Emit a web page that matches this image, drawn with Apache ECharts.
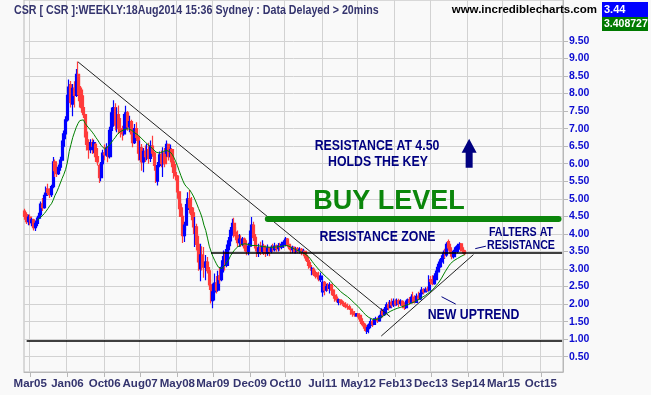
<!DOCTYPE html>
<html><head><meta charset="utf-8">
<script src="https://cdn.jsdelivr.net/npm/echarts@6/dist/echarts.min.js"></script>
<style>html,body{margin:0;padding:0;background:#f9f9f9}#c{width:651px;height:395px}</style>
</head><body><div id="c"></div>
<script>
// ---- axis labels ----
const tickLabels = ['Mar05','Jan06','Oct06','Aug07','May08','Mar09','Dec09','Oct10','Jul11','May12','Feb13','Dec13','Sep14','Mar15','Oct15'];
const tickIndex  = [3,24,45,65,86,106,127,147,168,188,209,229,250,270,291];
const yTicks = [0.5,1,1.5,2,2.5,3,3.5,4,4.5,5,5.5,6,6.5,7,7.5,8,8.5,9,9.5];
const slotCount = 304; // two-week periods, incl. empty future space

// ---- two-week bars [open, close, low, high] ----
const segA = [[4.65,4.50,4.40,4.72],[4.55,4.35,4.28,4.62],[4.35,4.48,4.25,4.55],[4.48,4.32,4.25,4.55],[4.32,4.40,4.22,4.45],[4.40,4.18,4.10,4.43],[4.18,4.30,4.08,4.38],[4.30,4.45,4.22,4.52],[4.45,4.55,4.38,4.60],[4.55,4.85,4.50,4.92],[4.85,4.75,4.65,5.02],[4.75,5.10,4.72,5.18],[5.10,5.28,4.98,5.35],[5.28,5.18,5.10,5.43],[5.18,5.12,5.02,5.30]];
const segB = [[5.12,5.35,5.05,5.40],[5.35,6.05,5.30,6.19],[6.05,5.80,5.62,6.12],[5.80,5.72,5.62,5.95],[5.72,5.90,5.68,5.98],[5.90,6.10,5.80,6.20],[6.10,6.50,6.05,6.66],[6.50,6.85,6.45,6.95],[6.85,7.25,6.70,7.35],[7.25,7.95,7.20,8.20],[7.95,8.25,7.70,8.40],[8.25,7.75,7.60,8.36],[7.70,8.15,7.35,8.27],[8.15,7.95,7.60,8.35],[7.95,8.55,7.90,8.70],[8.55,8.20,7.95,8.91]];
const segC = [[8.20,7.80,7.60,8.55],[8.10,7.60,7.45,8.17],[7.60,7.40,7.30,7.95],[7.40,6.90,6.75,7.45],[6.90,6.55,6.38,7.00],[6.55,6.40,6.14,6.70],[6.40,6.60,6.30,6.70],[6.60,6.50,6.28,6.72],[6.40,6.60,6.30,6.68],[6.55,6.20,6.05,6.60],[6.20,6.05,5.95,6.45],[5.95,5.60,5.45,6.00],[5.60,6.00,5.50,6.05],[6.00,6.30,5.95,6.40],[6.30,6.25,6.10,6.55],[6.25,6.45,6.20,6.58],[6.45,6.20,6.04,6.50],[6.20,6.95,6.15,7.05],[6.95,7.45,6.85,7.60],[7.30,7.60,7.05,7.81],[7.60,7.10,6.95,7.72],[7.10,7.40,6.90,7.60],[7.40,7.00,6.85,7.66],[7.00,6.90,6.75,7.30],[6.90,6.85,6.66,7.08],[6.85,7.30,6.80,7.42]];
const segD = [[7.00,7.45,6.95,7.65],[7.45,7.05,6.94,7.50],[7.05,7.20,6.90,7.37],[7.20,6.85,6.70,7.25],[6.85,6.60,6.47,7.05],[6.60,7.00,6.56,7.13],[7.00,6.75,6.65,7.18],[6.75,6.30,6.09,6.80],[6.30,6.45,6.10,6.66],[6.45,6.05,5.80,6.56],[6.05,6.35,5.76,6.45],[6.35,6.20,6.05,6.52],[6.20,6.40,6.10,6.56],[6.40,6.15,6.00,6.60],[6.15,6.50,6.05,6.66],[6.50,6.30,6.20,6.80],[6.30,5.95,5.80,6.35],[5.95,5.90,5.45,6.19],[5.50,5.95,5.38,6.05],[5.95,6.25,5.90,6.35],[6.25,6.00,5.90,6.38],[6.00,6.30,5.62,6.47],[6.30,6.00,5.90,6.45],[6.30,6.55,6.20,6.66],[6.55,6.20,6.09,6.56],[6.20,6.40,6.10,6.55],[6.40,6.05,5.90,6.45],[6.05,5.75,5.57,6.19],[5.75,5.65,5.52,5.99],[5.65,5.20,5.00,5.68],[5.20,4.85,4.70,5.24],[4.85,4.50,4.48,5.00],[4.50,3.95,3.74,4.76],[3.95,4.25,3.77,4.35]];
const segE = [[4.25,4.70,4.10,4.85],[4.70,5.00,4.55,5.19],[5.00,4.75,4.58,5.25],[4.75,4.55,4.39,5.05],[4.60,4.20,4.00,4.75],[3.80,4.20,3.63,4.48],[4.20,3.70,3.53,4.29],[3.70,3.20,2.95,3.95],[3.00,3.40,2.65,3.72],[3.40,3.20,2.96,3.65],[3.20,3.05,2.75,3.63],[3.05,3.20,2.68,3.40],[3.20,2.95,2.87,3.34],[2.95,2.55,2.40,3.06],[2.55,2.10,2.02,2.70],[2.10,2.35,1.88,2.59],[2.35,2.60,2.10,2.87],[2.60,2.40,2.30,2.80],[2.40,2.80,2.35,2.95],[2.80,2.70,2.58,3.06],[2.70,3.05,2.65,3.25],[3.05,3.35,2.90,3.53],[3.35,3.10,2.96,3.50],[3.10,3.55,3.05,3.70],[3.55,3.80,3.44,3.91],[3.80,4.10,3.65,4.20],[4.10,4.30,3.95,4.43],[4.30,4.05,3.90,4.46],[4.05,3.95,3.82,4.20],[3.95,3.75,3.63,4.10]];
const segF = [[3.75,3.85,3.63,4.00],[3.85,3.70,3.63,3.96],[3.70,3.85,3.65,3.91],[3.85,3.60,3.50,3.90],[3.60,3.50,3.39,3.82],[3.50,3.65,3.39,3.75],[3.65,4.00,3.60,4.10],[4.00,4.25,3.85,4.48],[4.25,3.90,3.80,4.35],[3.90,3.60,3.50,4.00],[3.60,3.45,3.34,3.65],[3.45,3.60,3.34,3.72],[3.60,3.50,3.40,3.78],[3.50,3.65,3.44,3.82],[3.65,3.55,3.40,3.72],[3.55,3.45,3.34,3.66],[3.45,3.60,3.38,3.70],[3.60,3.50,3.36,3.63],[3.50,3.62,3.45,3.68],[3.62,3.55,3.49,3.72],[3.55,3.65,3.50,3.75],[3.65,3.58,3.49,3.70],[3.58,3.66,3.50,3.74],[3.66,3.62,3.52,3.75],[3.62,3.70,3.56,3.78],[3.70,3.76,3.60,3.82],[3.76,3.85,3.65,3.91],[3.85,3.70,3.62,3.88],[3.70,3.62,3.56,3.77],[3.62,3.55,3.44,3.66],[3.55,3.62,3.45,3.66],[3.62,3.50,3.44,3.64],[3.50,3.58,3.44,3.62],[3.58,3.52,3.45,3.63],[3.52,3.56,3.44,3.62],[3.56,3.48,3.39,3.60],[3.48,3.50,3.40,3.58],[3.50,3.38,3.30,3.53],[3.38,3.25,3.20,3.45],[3.25,3.10,3.01,3.34],[3.10,3.05,2.95,3.20],[2.92,3.02,2.82,3.06],[3.00,2.85,2.80,3.04],[2.90,2.80,2.73,2.96],[2.80,2.78,2.70,2.90]];
const segG = [[2.80,2.70,2.65,2.92],[2.70,2.80,2.63,2.90],[2.35,2.62,2.21,2.68],[2.62,2.40,2.25,2.66],[2.40,2.50,2.35,2.58],[2.50,2.45,2.38,2.60],[2.45,2.55,2.30,2.62],[2.55,2.40,2.25,2.58],[2.40,2.25,2.15,2.42],[2.25,2.20,2.07,2.30],[2.20,2.12,2.05,2.28],[2.05,2.12,1.97,2.16],[2.12,2.05,1.97,2.14],[2.05,2.02,1.95,2.11],[2.02,1.98,1.92,2.08],[1.98,1.93,1.88,2.05],[1.93,1.92,1.84,2.02],[1.92,1.86,1.83,1.98],[1.86,1.78,1.70,1.90],[1.78,1.72,1.64,1.83],[1.72,1.70,1.64,1.80],[1.66,1.72,1.64,1.75],[1.72,1.68,1.62,1.74],[1.68,1.58,1.50,1.73],[1.58,1.45,1.40,1.62],[1.45,1.38,1.30,1.52],[1.38,1.25,1.21,1.45],[1.22,1.30,1.15,1.35],[1.30,1.40,1.17,1.45],[1.40,1.50,1.31,1.59],[1.50,1.42,1.35,1.56],[1.42,1.55,1.40,1.60],[1.55,1.58,1.45,1.64],[1.58,1.52,1.46,1.62],[1.52,1.65,1.50,1.70]];
const segH = [[1.65,1.80,1.60,1.88],[1.80,1.70,1.62,1.86],[1.70,1.85,1.66,1.92],[1.85,1.98,1.75,2.05],[1.98,1.90,1.82,2.07],[1.90,2.05,1.88,2.12],[2.05,1.98,1.90,2.16],[1.98,2.08,1.92,2.16],[2.08,2.00,1.94,2.14],[2.00,2.10,1.95,2.16],[2.10,2.02,1.92,2.15],[2.02,2.08,1.95,2.14],[2.08,1.96,1.88,2.11],[1.96,1.90,1.83,2.05],[1.90,2.05,1.86,2.10],[2.05,2.12,1.95,2.16],[2.12,2.05,1.98,2.20],[2.05,2.20,2.02,2.28],[2.20,2.10,2.02,2.35],[2.10,2.05,2.02,2.25],[2.05,2.22,2.05,2.30],[2.22,2.15,2.11,2.35],[2.15,2.30,2.12,2.35],[2.30,2.40,2.26,2.49],[2.40,2.35,2.28,2.45],[2.35,2.42,2.33,2.48],[2.42,2.40,2.35,2.50],[2.40,2.70,2.36,2.82],[2.70,2.65,2.55,2.80],[2.65,2.58,2.54,2.82],[2.58,2.80,2.55,2.88],[2.70,2.92,2.62,2.96],[2.92,3.05,2.82,3.15],[3.05,3.20,2.95,3.28],[3.20,3.30,3.05,3.39],[3.30,3.45,3.15,3.53],[3.45,3.40,3.30,3.58],[3.40,3.70,3.35,3.76],[3.78,3.60,3.52,3.84],[3.60,3.45,3.35,3.72],[3.45,3.35,3.28,3.55],[3.35,3.50,3.30,3.55],[3.50,3.60,3.40,3.65],[3.50,3.66,3.45,3.72],[3.66,3.70,3.55,3.76],[3.72,3.60,3.50,3.74],[3.60,3.52,3.44,3.67],[3.52,3.44,3.39,3.55]];

// ---- moving average (green line) ----
const maA = [null,null,null,null,null,null,null,4.39,4.43,4.48,4.53,4.58,4.65,4.72,4.80,4.86,4.97,5.10,5.20,5.32,5.45,5.58,5.70,5.84,6.05,6.35,6.55,6.75,6.90,7.04,7.15,7.23,7.27,7.25,7.15,7.08,7.02,6.96,6.90,6.83,6.75,6.68,6.60,6.52,6.47,6.42,6.44,6.49,6.55,6.62,6.69,6.75,6.83,6.88,6.92,6.95,6.97];
const maB = [6.99,7.00,6.99,6.96,6.92,6.88,6.85,6.81,6.76,6.71,6.66,6.61,6.56,6.52,6.48,6.43,6.38,6.33,6.30,6.30,6.32,6.35,6.38,6.38,6.36,6.33,6.27,6.18,6.07,5.95,5.80,5.66,5.53,5.42,5.35,5.30,5.25,5.17,5.08,4.97,4.85,4.72,4.60,4.45,4.25,4.10,3.88,3.65,3.50,3.36,3.25,3.15,3.06,3.03,3.01,3.06,3.12,3.20,3.27,3.38,3.45,3.53,3.58,3.63];
const maC = [3.66,3.69,3.71,3.72,3.71,3.70,3.68,3.67,3.67,3.67,3.67,3.66,3.65,3.64,3.63,3.63,3.63,3.62,3.62,3.62,3.63,3.63,3.63,3.64,3.65,3.66,3.67,3.67,3.65,3.62,3.59,3.57,3.55,3.52,3.50,3.48,3.45,3.43,3.40,3.35,3.29,3.22,3.15,3.09,3.03,2.97,2.92,2.87,2.82,2.77,2.73,2.68,2.63,2.56,2.52,2.47,2.42,2.36,2.32,2.28,2.25,2.21,2.17,2.12];
const maD = [2.07,2.02,1.98,1.93,1.87,1.82,1.76,1.70,1.66,1.62,1.59,1.57,1.56,1.56,1.57,1.59,1.62,1.66,1.70,1.73,1.76,1.79,1.82,1.84,1.86,1.88,1.90,1.91,1.93,1.95,1.97,1.99,2.01,2.03,2.05,2.07,2.10,2.13,2.16,2.19,2.22,2.25,2.29,2.33,2.37,2.41,2.47,2.53,2.59,2.66,2.74,2.83,2.92,3.00,3.08,3.15,3.20,3.24,3.27,3.30,3.33,3.36,3.39,3.41];

// ---- annotation levels (data space: [period index, price]) ----
const downTrend = [[30, 8.90], [206, 1.64]];
const upTrend = [[201, 1.09], [253, 3.41]];
const resistanceLine = [[105, 3.45], [303, 3.45]];
const supportLine = [[1, 0.97], [303, 0.97]];
const buyLine = [[137, 4.42], [301, 4.42]];
const pointerA = [[235, 2.21], [243, 2.00]];
const pointerB = [[254, 3.58], [260, 3.65]];
const arrowAt = [250, 6.30];
const lastPrice = '3.44', lastMA = '3.408727';

const categories = [];
const t0 = Date.UTC(2005, 1, 7);
for (let i = 0; i < slotCount; i++) categories.push(new Date(t0 + i * 14 * 864e5).toISOString().slice(0, 10));
const bars = [].concat(segA, segB, segC, segD, segE, segF, segG, segH);
const ma = [].concat(maA, maB, maC, maD);
const tickSet = new Set(tickIndex);
const labelOf = {}; tickIndex.forEach((t, k) => labelOf[t] = tickLabels[k]);
const showTick = (i) => tickSet.has(i);

const SANS = '"Liberation Sans",Arial,sans-serif';
const NAVY = '#000080';
function ml(pts, style) {
  return [{coord: pts[0], lineStyle: style}, {coord: pts[1]}];
}
// narrow-looking bold text: regular bold face squeezed horizontally
function txt(x, y, text, size, fill, align, sx) {
  return {type: 'text', x: x, y: y, z: 100, scaleX: sx == null ? 0.82 : sx, scaleY: 1,
    style: {text: text, font: 'bold ' + size + 'px ' + SANS, fill: fill,
      align: align || 'center', textAlign: align || 'center', verticalAlign: 'middle', textVerticalAlign: 'middle'}};
}

const chart = echarts.init(document.getElementById('c'), null, {width: 651, height: 395});
chart.setOption({
  animation: false,
  backgroundColor: '#f9f9f9',
  grid: {left: 24, right: 88, top: -1, bottom: 23, show: true, borderColor: '#b8b8b8', borderWidth: 1},
  xAxis: {
    type: 'category', data: categories, boundaryGap: true,
    axisLine: {show: true, lineStyle: {color: '#b8b8b8'}},
    axisTick: {show: true, interval: showTick, alignWithLabel: true, length: 5, lineStyle: {color: '#b8b8b8'}},
    axisLabel: {interval: showTick, formatter: (v, i) => labelOf[i] || '', margin: 6,
      color: '#34346e', fontFamily: SANS, fontWeight: 'bold', fontSize: 11.5},
    splitLine: {show: true, interval: showTick, lineStyle: {color: '#d2d2d2'}}
  },
  yAxis: {
    type: 'value', position: 'right', min: 0.0654, max: 10.665, scale: true,
    axisLine: {show: true, lineStyle: {color: '#b8b8b8'}},
    axisTick: {show: true, customValues: yTicks, length: 5, lineStyle: {color: '#b8b8b8'}},
    axisLabel: {customValues: yTicks, formatter: v => v.toFixed(2), margin: 6,
      color: '#0c0cd0', fontFamily: SANS, fontWeight: 'bold', fontSize: 10.5},
    splitLine: {show: true, lineStyle: {color: '#d2d2d2'}}
  },
  series: [
    {
      type: 'candlestick', data: bars, barWidth: 2.6,
      itemStyle: {color: '#0000ff', color0: '#ff3b3b', borderColor: '#0000ff', borderColor0: '#ff3b3b', borderWidth: 1.2}
    },
    {
      type: 'line', data: ma, showSymbol: false, symbol: 'none', z: 3,
      lineStyle: {color: '#008000', width: 1},
      markLine: {
        silent: true, symbol: ['none', 'none'], label: {show: false}, animation: false, z: 5,
        data: [
          ml(downTrend, {color: '#222', width: 1, type: 'solid'}),
          ml(upTrend, {color: '#222', width: 1, type: 'solid'}),
          ml(resistanceLine, {color: '#000', width: 1.5, type: 'solid'}),
          ml(supportLine, {color: '#000', width: 1.5, type: 'solid'}),
          ml(buyLine, {color: '#0b860b', width: 6, type: 'solid', cap: 'round'}),
          ml(pointerA, {color: NAVY, width: 1, type: 'solid'}),
          ml(pointerB, {color: NAVY, width: 1, type: 'solid'})
        ]
      },
      markPoint: {
        silent: true, label: {show: false},
        data: [{coord: arrowAt, symbol: 'path://M7.5,0 L15,14 L11,14 L11,29 L4,29 L4,14 L0,14 Z',
          symbolSize: [15, 29], symbolOffset: [1, 0], itemStyle: {color: NAVY}}]
      }
    }
  ],
  graphic: [
    txt(14, 10, 'CSR [ CSR ]:WEEKLY:18Aug2014 15:36 Sydney : Data Delayed > 20mins', 13, '#34346e', 'left'),
    txt(597, 10, 'www.incrediblecharts.com', 11.5, '#000', 'right', 1),
    {type: 'rect', z: 100, shape: {x: 602, y: 2, width: 46, height: 15}, style: {fill: '#0000ff'}},
    {type: 'rect', z: 100, shape: {x: 602, y: 17, width: 46, height: 14}, style: {fill: '#007a00'}},
    txt(604, 10, lastPrice, 11, '#fff', 'left', 1),
    txt(604, 24.5, lastMA, 10.5, '#fff', 'left', 1),
    txt(377, 145.5, 'RESISTANCE AT 4.50', 15, NAVY),
    txt(378, 161.5, 'HOLDS THE KEY', 15, NAVY),
    txt(389, 202, 'BUY LEVEL', 27, '#0b860b', 'center', 1),
    txt(377.5, 237, 'RESISTANCE ZONE', 15, NAVY),
    txt(473.5, 315, 'NEW UPTREND', 15, NAVY),
    txt(521, 232.5, 'FALTERS AT', 13, NAVY),
    txt(521, 245, 'RESISTANCE', 13, NAVY)
  ]
});
</script>
</body></html>
